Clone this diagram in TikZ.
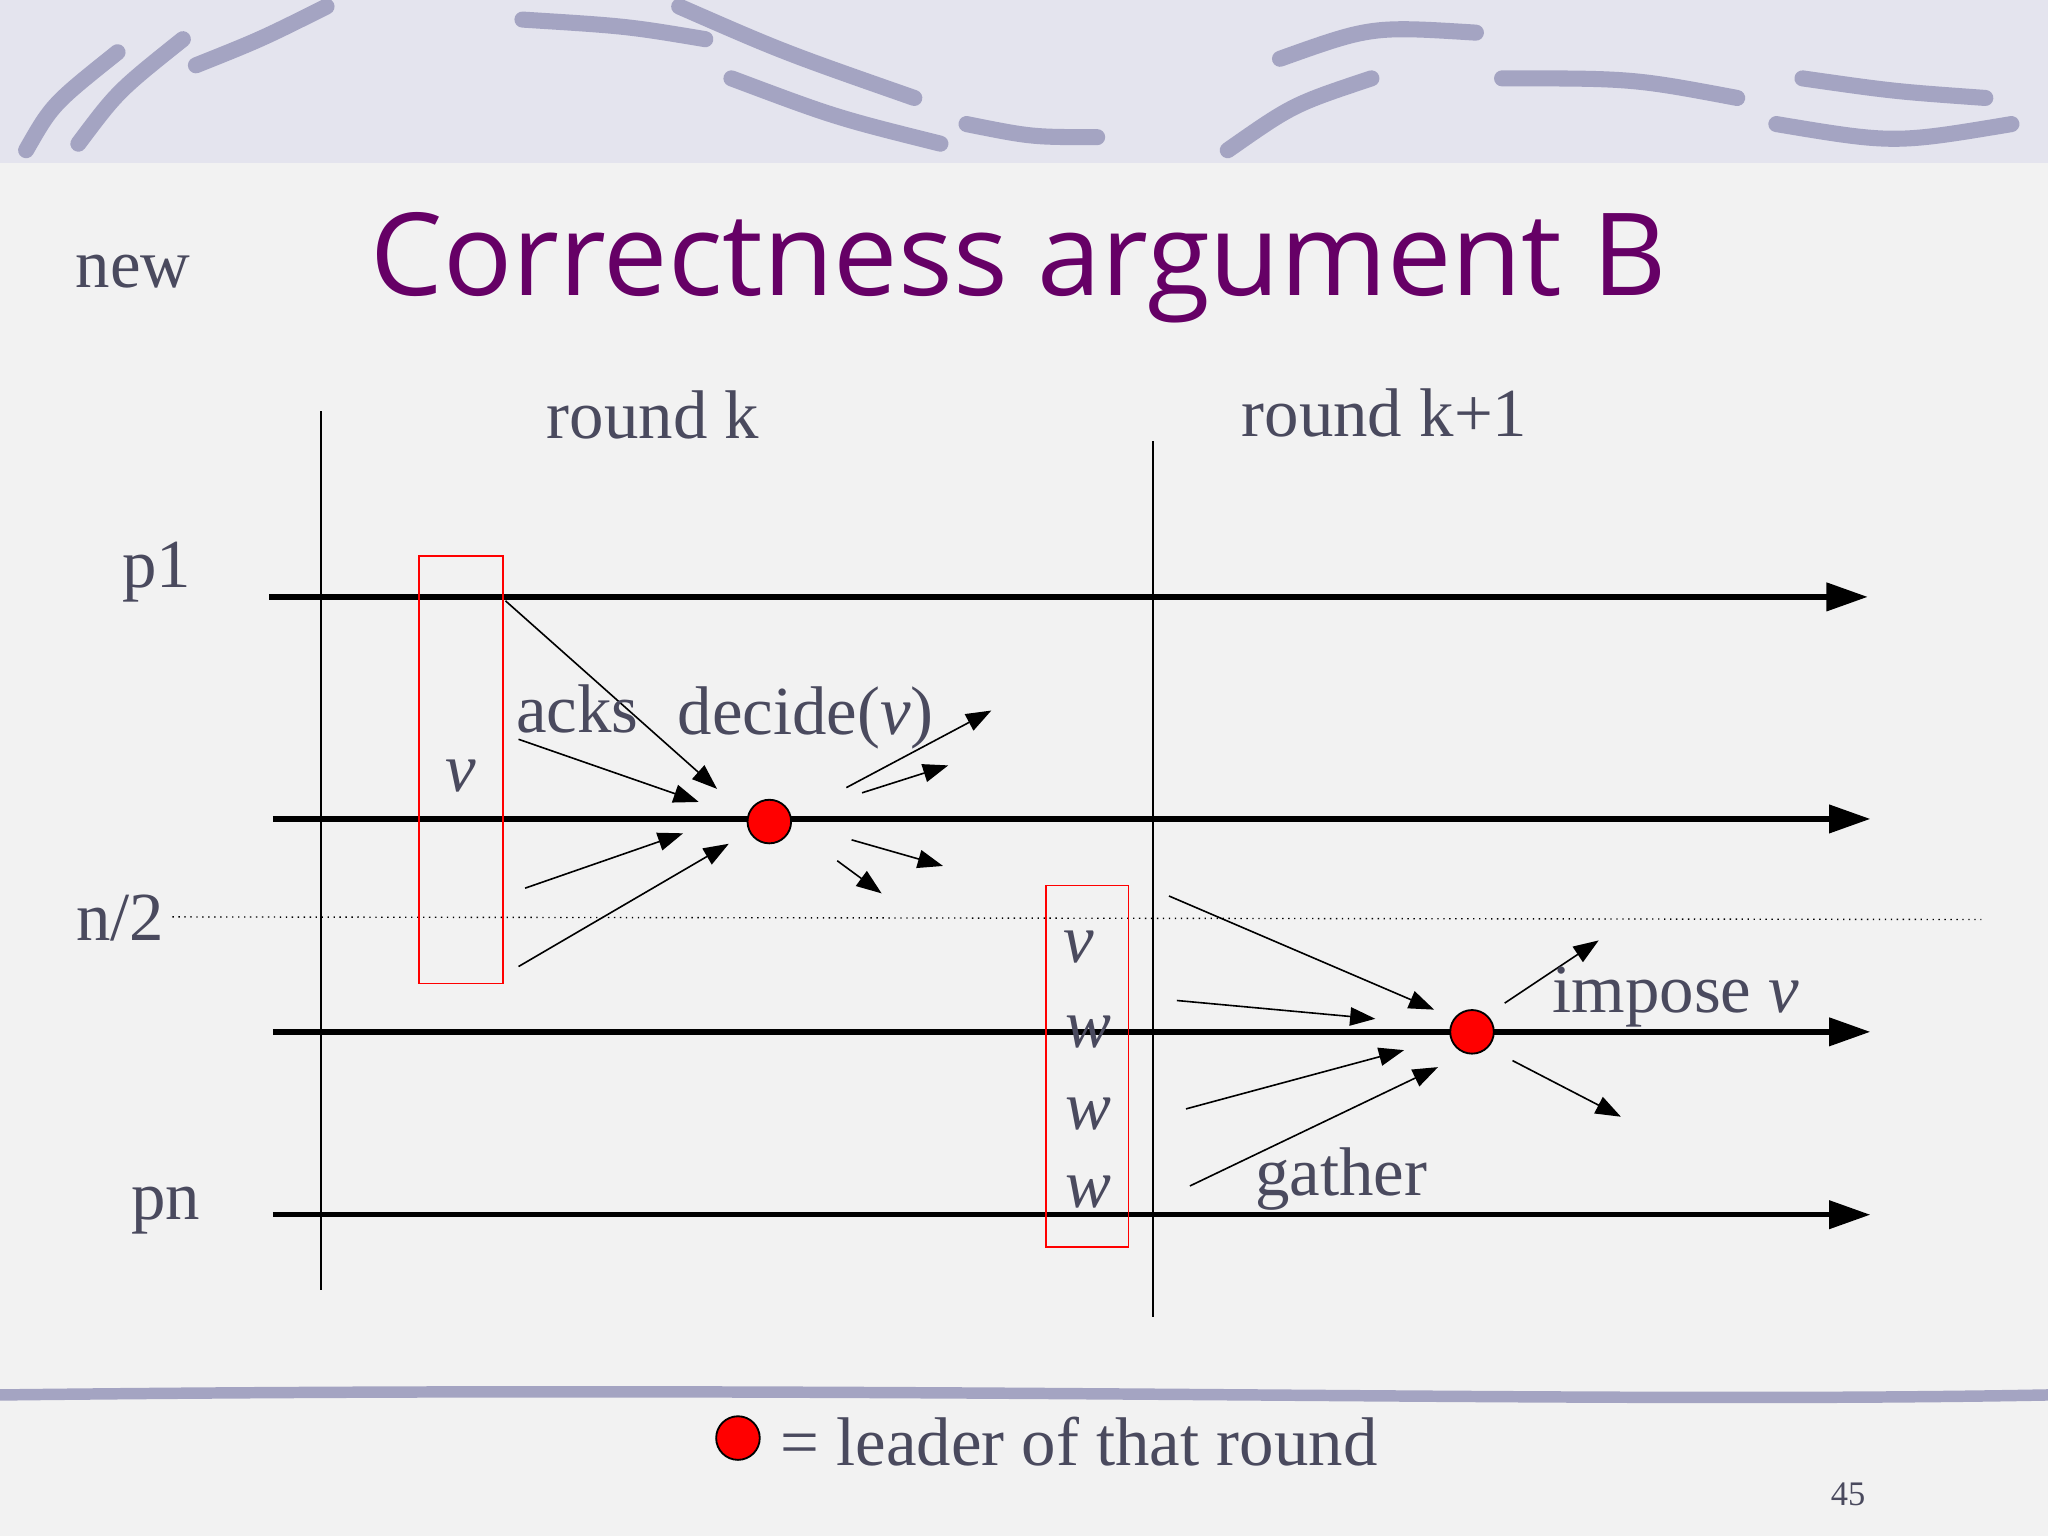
\documentclass[tikz,border=0pt]{standalone}
\usepackage{fontspec}
\setmainfont{Liberation Serif}
\newfontfamily\titlefont{Open Sans}
\usetikzlibrary{arrows.meta}
\definecolor{txt}{HTML}{4A4A5E}
\definecolor{ttl}{HTML}{660066}
\definecolor{band}{HTML}{E4E4EE}
\definecolor{strk}{HTML}{A4A4C2}
\definecolor{bg}{HTML}{F2F2F2}
\tikzset{
 lab/.style={text=txt,font=\fontsize{30}{33}\selectfont,inner sep=0pt},
 life/.style={line width=2.4pt,-{Triangle[length=18pt,width=12pt]}},
 msg/.style={line width=0.7pt,-{Triangle[length=11pt,width=8pt]}},
 leader/.style={circle,fill=red,draw=black,line width=0.8pt,minimum size=19pt,inner sep=0pt},
 box/.style={draw=red,line width=0.8pt},
 deco/.style={strk,line width=7pt,line cap=round}
}
\begin{document}
\begin{tikzpicture}[x=0.02cm,y=-0.02cm]
\useasboundingbox (0,0) rectangle (1568,1176);
\fill[bg] (0,0) rectangle (1568,1176);
\fill[band] (0,0) rectangle (1568,125);
\draw[deco] (20,115) .. controls (40,80) .. (90,40);
\draw[deco] (60,110) .. controls (90,70) .. (140,30);
\draw[deco] (150,50) .. controls (200,30) .. (250,5);
\draw[deco] (400,15) .. controls (480,20) .. (540,30);
\draw[deco] (520,5) .. controls (600,40) .. (700,75);
\draw[deco] (560,60) .. controls (640,90) .. (720,110);
\draw[deco] (740,95) .. controls (790,105) .. (840,105);
\draw[deco] (940,115) .. controls (990,80) .. (1050,60);
\draw[deco] (980,45) .. controls (1050,20) .. (1130,25);
\draw[deco] (1150,60) .. controls (1250,60) .. (1330,75);
\draw[deco] (1360,95) .. controls (1450,110) .. (1540,95);
\draw[deco] (1380,60) .. controls (1450,70) .. (1520,75);
\draw[strk,line width=5pt] (0,1068) .. controls (700,1060) and (1200,1075) .. (1568,1068);
% title etc
\node[text=ttl,font=\titlefont\fontsize{50}{56}\selectfont,inner sep=0pt] (title) at (780,205) {Correctness argument B};
\node[lab] (new) at (102,208) {new};
\node[lab] (rk) at (500,318) {round k};
\node[lab] (rk1) at (1060,316) {round k+1};
\node[lab] (p1) at (120,438) {p1};
\node[lab] (n2) at (92,703) {n/2};
\node[lab] (pn) at (127,927) {pn};
% vertical lines
\coordinate (va) at (246,315); \coordinate (vb) at (246,988);
\coordinate (vc) at (883,338); \coordinate (vd) at (883,1008);
\draw[line width=0.8pt] (va)--(vb);
\draw[line width=0.8pt] (vc)--(vd);
% dotted
\coordinate (da) at (132,702); \coordinate (db) at (1517,704);
\draw[dotted,line width=0.6pt] (da)--(db);
% lifelines
\coordinate (l1a) at (206,457); \coordinate (l1b) at (1430,457);
\coordinate (l2a) at (209,627); \coordinate (l2b) at (1432,627);
\coordinate (l3a) at (209,790); \coordinate (l3b) at (1432,790);
\coordinate (l4a) at (209,930); \coordinate (l4b) at (1432,930);
\draw[life] (l1a)--(l1b);
\draw[life] (l2a)--(l2b);
\draw[life] (l3a)--(l3b);
\draw[life] (l4a)--(l4b);
% boxes
\draw[box] (321,426) rectangle (385,753);
\draw[box] (801,678) rectangle (864,955);
\node[lab,font=\fontsize{30}{33}\selectfont\itshape] (v1) at (353,594) {v};
\node[lab,font=\fontsize{30}{33}\selectfont\itshape] (v2) at (826,725) {v};
\node[lab,font=\fontsize{30}{33}\selectfont\itshape] (w1) at (833,790) {w};
\node[lab,font=\fontsize{30}{33}\selectfont\itshape] (w2) at (833,853) {w};
\node[lab,font=\fontsize{30}{33}\selectfont\itshape] (w3) at (833,913) {w};
% round k messages
\coordinate (a1) at (387,460); \coordinate (a1e) at (549,604);
\coordinate (a2) at (397,566); \coordinate (a2e) at (535,614);
\coordinate (a3) at (402,680); \coordinate (a3e) at (523,638);
\coordinate (a4) at (397,740); \coordinate (a4e) at (558,646);
\draw[msg] (a1)--(a1e);
\draw[msg] (a2)--(a2e);
\draw[msg] (a3)--(a3e);
\draw[msg] (a4)--(a4e);
\coordinate (b1) at (648,603); \coordinate (b1e) at (759,544);
\coordinate (b2) at (660,607); \coordinate (b2e) at (726,586);
\coordinate (b3) at (652,643); \coordinate (b3e) at (722,663);
\coordinate (b4) at (641,659); \coordinate (b4e) at (675,684);
\draw[msg] (b1)--(b1e);
\draw[msg] (b2)--(b2e);
\draw[msg] (b3)--(b3e);
\draw[msg] (b4)--(b4e);
\node[leader] (L1) at (589,629) {};
\node[lab] (acks) at (442,543) {acks};
\node[lab] (dec) at (617,550) {decide(\textit{v})};
% round k+1
\coordinate (c1) at (895,686); \coordinate (c1e) at (1098,773);
\coordinate (c2) at (901,766); \coordinate (c2e) at (1053,780);
\coordinate (c3) at (908,849); \coordinate (c3e) at (1075,804);
\coordinate (c4) at (911,908); \coordinate (c4e) at (1101,817);
\draw[msg] (c1)--(c1e);
\draw[msg] (c2)--(c2e);
\draw[msg] (c3)--(c3e);
\draw[msg] (c4)--(c4e);
\coordinate (d1) at (1152,768); \coordinate (d1e) at (1224,720);
\coordinate (d2) at (1158,812); \coordinate (d2e) at (1241,855);
\draw[msg] (d1)--(d1e);
\draw[msg] (d2)--(d2e);
\node[leader] (L2) at (1127,790) {};
\node[lab] (imp) at (1283,763) {impose \textit{v}};
\node[lab] (gat) at (1027,903) {gather};
% legend
\node[leader] (L3) at (565,1101) {};
\node[lab] (leg) at (826,1104) {= leader of that round};
\node[lab,font=\fontsize{15}{17}\selectfont] (pg) at (1415,1144) {45};
\end{tikzpicture}
\end{document}
